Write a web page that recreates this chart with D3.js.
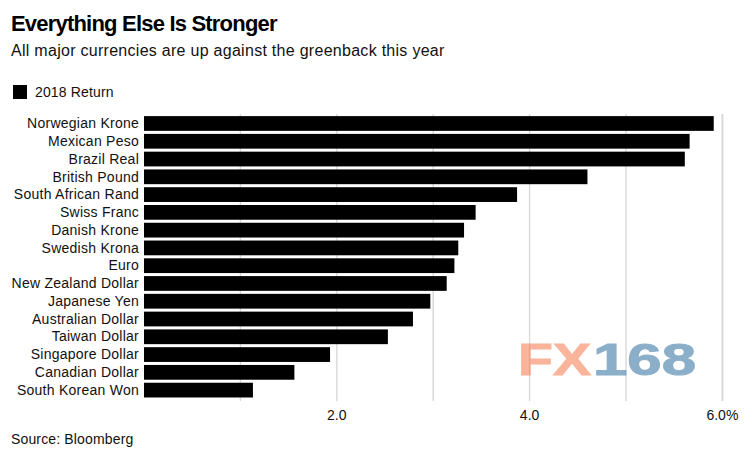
<!DOCTYPE html>
<html>
<head>
<meta charset="utf-8">
<script src="https://cdn.jsdelivr.net/npm/d3@7"></script>
<style>
html,body{margin:0;padding:0;background:#fff;}
svg{display:block;}
text{font-family:"Liberation Sans",Arial,sans-serif;fill:#111;}
</style>
</head>
<body>
<script>
var currencies=["Norwegian Krone","Mexican Peso","Brazil Real","British Pound","South African Rand","Swiss Franc","Danish Krone","Swedish Krona","Euro","New Zealand Dollar","Japanese Yen","Australian Dollar","Taiwan Dollar","Singapore Dollar","Canadian Dollar","South Korean Won"];
var returns2018=[5.91,5.66,5.61,4.60,3.87,3.44,3.32,3.26,3.22,3.14,2.97,2.79,2.53,1.93,1.56,1.13];
var gridValues=[1,2,3,4,5,6];
var tickValues=[2,4,6];
var tickLabels=["2.0","4.0","6.0%"];

var svg=d3.select('body').append('svg').attr('width',754).attr('height',465);

var x=d3.scaleLinear().domain([0,6]).range([144,722.4]);
var y=d3.scaleBand().domain(currencies).range([114.6,399]).paddingInner(0.17).paddingOuter(0.085);

// grid
svg.append('g').selectAll('line').data(gridValues).enter().append('line')
  .attr('x1',d=>x(d)).attr('x2',d=>x(d))
  .attr('y1',114).attr('y2',401)
  .attr('stroke','#d9d9d9').attr('stroke-width',d=>d==6?2:1.4);

// bars
svg.append('g').selectAll('rect').data(currencies).enter().append('rect')
  .attr('x',x(0))
  .attr('y',d=>y(d))
  .attr('width',(d,i)=>x(returns2018[i])-x(0))
  .attr('height',y.bandwidth())
  .attr('fill','#000');

// category labels
svg.append('g').selectAll('text').data(currencies).enter().append('text')
  .attr('x',139)
  .attr('y',d=>y(d)+y.bandwidth()/2+4.7)
  .attr('text-anchor','end')
  .attr('font-size',14)
  .attr('letter-spacing',0.25)
  .text(d=>d);

// x labels
svg.append('g').selectAll('text').data(tickValues).enter().append('text')
  .attr('x',d=>x(d))
  .attr('y',419.5)
  .attr('text-anchor','middle')
  .attr('font-size',14)
  .text((d,i)=>tickLabels[i]);

// titles
svg.append('text').attr('x',11).attr('y',31).attr('font-size',22).attr('font-weight','bold')
  .attr('letter-spacing',-0.8).style('fill','#000').text('Everything Else Is Stronger');
svg.append('text').attr('x',11).attr('y',56).attr('font-size',16)
  .attr('letter-spacing',0.28).text('All major currencies are up against the greenback this year');

// legend
svg.append('rect').attr('x',13).attr('y',85).attr('width',14).attr('height',14).attr('fill','#000');
svg.append('text').attr('x',35).attr('y',97).attr('font-size',14).attr('letter-spacing',0.15).text('2018 Return');

svg.append('text').attr('x',11).attr('y',444).attr('font-size',14).attr('letter-spacing',0.15).text('Source: Bloomberg');

// watermark
svg.append('text').attr('x',518).attr('y',375).attr('font-size',44).attr('font-weight','bold')
  .attr('textLength',73).attr('lengthAdjust','spacingAndGlyphs')
  .style('fill','#f6774a').style('stroke','#f6774a').style('stroke-width',1).style('opacity',0.55).text('FX');
svg.append('text').attr('x',593).attr('y',375).attr('font-size',44).attr('font-weight','bold')
  .attr('textLength',103).attr('lengthAdjust','spacingAndGlyphs')
  .style('fill','#3f7ba6').style('stroke','#3f7ba6').style('stroke-width',1).style('opacity',0.6).text('168');
</script>
</body>
</html>
